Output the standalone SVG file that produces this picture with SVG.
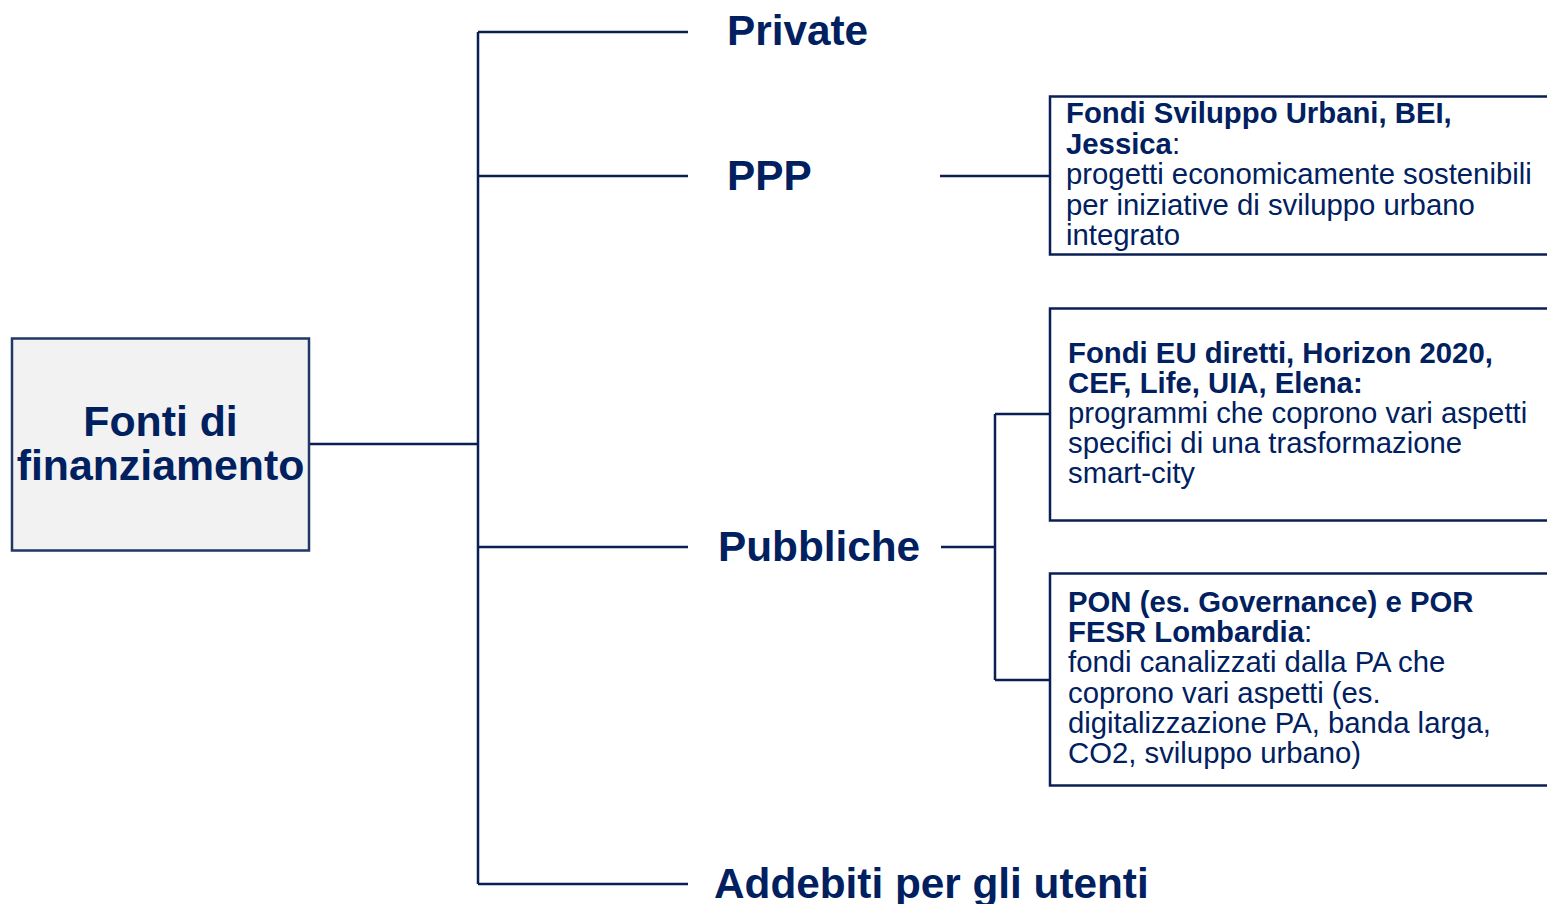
<svg xmlns="http://www.w3.org/2000/svg" width="1547" height="904" viewBox="0 0 1547 904">
<style>
.ln{stroke:#0b1f55;stroke-width:2.5;fill:none}
.box{fill:#fff;stroke:#0b1f55;stroke-width:2.5}
.t{font-family:"Liberation Sans",Arial,sans-serif;fill:#002060}
.big{font-size:42.3px;font-weight:bold}
.root{font-size:42.8px;font-weight:bold}
.sm{font-size:29.3px}
.b{font-weight:bold}
</style>
<rect width="1547" height="904" fill="#fff"/>
<g id="connectors">
<path class="ln" d="M309 444H478M478 32V884M478 32H688M478 176H688M478 547H688M478 884H688"/>
<path class="ln" d="M940 176H1050"/>
<path class="ln" d="M941 547H995M995 414V680M995 414H1050M995 680H1050"/>
</g>
<g id="root">
<rect x="12" y="338.5" width="297" height="212" fill="#f2f2f2" stroke="#1f3864" stroke-width="2.5"/>
<text class="t root" x="160.5" y="436" text-anchor="middle">Fonti di</text>
<text class="t root" x="160.5" y="480" text-anchor="middle">finanziamento</text>
</g>
<g id="private"><text class="t big" x="727" y="45">Private</text></g>
<g id="ppp"><text class="t big" x="727" y="190">PPP</text></g>
<g id="pubbliche"><text class="t big" x="718" y="561">Pubbliche</text></g>
<g id="addebiti"><text class="t big" x="714" y="898">Addebiti per gli utenti</text></g>
<g id="box-fsu">
<rect class="box" x="1050" y="96.5" width="520" height="158"/>
<text class="t sm" x="1066"><tspan x="1066" y="123" class="b">Fondi Sviluppo Urbani, BEI,</tspan><tspan x="1066" y="154"><tspan class="b">Jessica</tspan>:</tspan><tspan x="1066" y="184">progetti economicamente sostenibili</tspan><tspan x="1066" y="215">per iniziative di sviluppo urbano</tspan><tspan x="1066" y="245">integrato</tspan></text>
</g>
<g id="box-eu">
<rect class="box" x="1050" y="308.5" width="520" height="212"/>
<text class="t sm" x="1068"><tspan x="1068" y="363" class="b">Fondi EU diretti, Horizon 2020,</tspan><tspan x="1068" y="393" class="b">CEF, Life, UIA, Elena:</tspan><tspan x="1068" y="423">programmi che coprono vari aspetti</tspan><tspan x="1068" y="453">specifici di una trasformazione</tspan><tspan x="1068" y="483">smart-city</tspan></text>
</g>
<g id="box-pon">
<rect class="box" x="1050" y="573.5" width="520" height="212"/>
<text class="t sm" x="1068"><tspan x="1068" y="612" class="b">PON (es. Governance) e POR</tspan><tspan x="1068" y="642"><tspan class="b">FESR Lombardia</tspan>:</tspan><tspan x="1068" y="672">fondi canalizzati dalla PA che</tspan><tspan x="1068" y="703">coprono vari aspetti (es.</tspan><tspan x="1068" y="733">digitalizzazione PA, banda larga,</tspan><tspan x="1068" y="763">CO2, sviluppo urbano)</tspan></text>
</g>
</svg>
